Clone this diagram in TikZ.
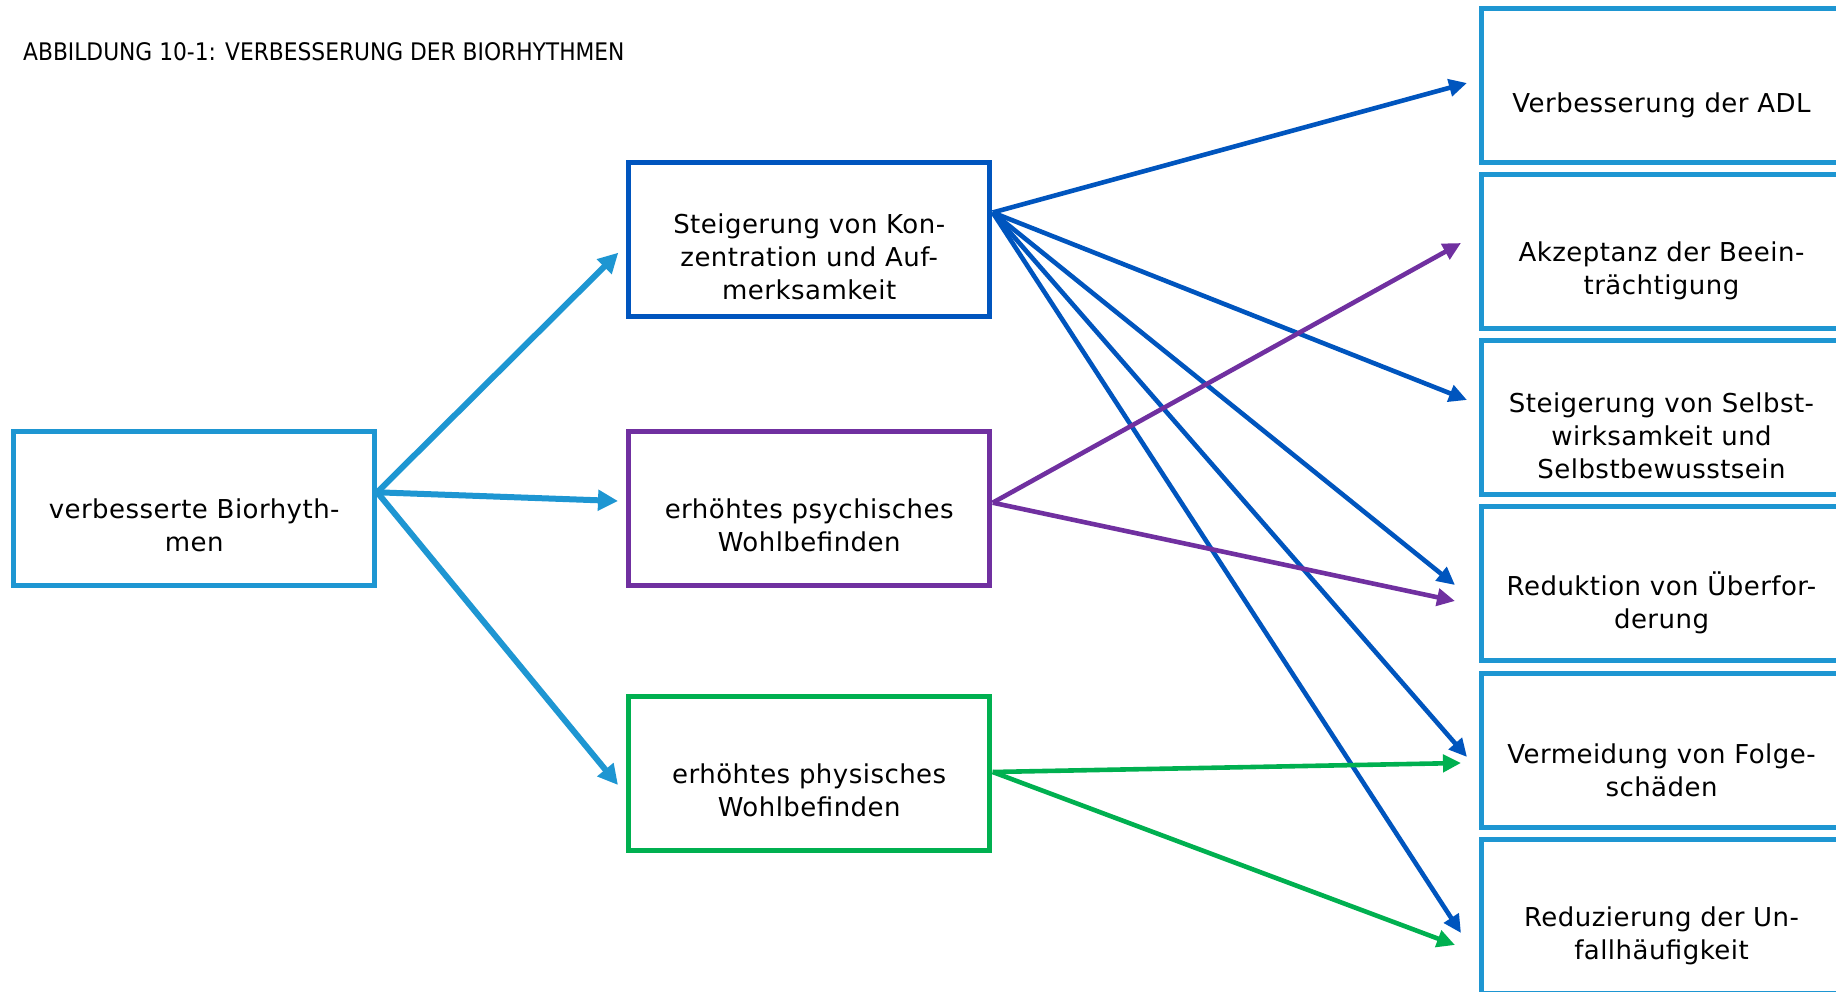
\documentclass[tikz,border=0pt]{standalone}
\usepackage{fontspec}
\setmainfont{DejaVu Sans}[LetterSpace=1.8]
\newfontfamily\titlefont{DejaVu Sans Condensed}
\usetikzlibrary{arrows.meta}
\definecolor{lblue}{HTML}{1E96D2}
\definecolor{dblue}{HTML}{0055BE}
\definecolor{lila}{HTML}{7030A0}
\definecolor{gruen}{HTML}{00B050}
\begin{document}
\begin{tikzpicture}[x=1pt,y=-1pt,
  box/.style={draw, line width=5pt, minimum width=361pt, minimum height=154pt, inner sep=0pt},
  btext/.style={align=center, font=\fontsize{26}{33}\selectfont, text=black, inner sep=0pt},
  link/.style={line width=4.6pt, -{Triangle[length=18pt,width=17pt]}},
  thick link/.style={line width=6pt, -{Triangle[length=20pt,width=20pt]}},
]
\useasboundingbox (0,0) rectangle (1836,992);
\fill[white] (0,0) rectangle (1836,992);

% caption
\node[anchor=base west, inner sep=0pt, font=\titlefont\fontsize{24.2}{28}\selectfont] (title) at (23,61)
  {ABBILDUNG 10-1: VERBESSERUNG DER BIORHYTHMEN};

% boxes
\node[box, draw=lblue] (L)  at (194.2,508.7) {};
\node[box, draw=dblue] (M1) at (809.2,239.5) {};
\node[box, draw=lila]  (M2) at (809.2,508.7) {};
\node[box, draw=gruen] (M3) at (809.2,773) {};
\node[box, draw=lblue] (R1) at (1661.5,85.8) {};
\node[box, draw=lblue] (R2) at (1661.5,251.3) {};
\node[box, draw=lblue] (R3) at (1661.5,417.2) {};
\node[box, draw=lblue] (R4) at (1661.5,583) {};
\node[box, draw=lblue] (R5) at (1661.5,750.3) {};
\node[box, draw=lblue] (R6) at (1661.5,916.2) {};

% box labels
\node[btext] (tL)  at ([yshift=-17pt]L.center)  {verbesserte Biorhyth-\\men};
\node[btext] (tM1) at ([yshift=-17pt]M1.center) {Steigerung von Kon-\\zentration und Auf-\\merksamkeit};
\node[btext] (tM2) at ([yshift=-17pt]M2.center) {erhöhtes psychisches\\Wohlbefinden};
\node[btext] (tM3) at ([yshift=-17pt]M3.center) {erhöhtes physisches\\Wohlbefinden};
\node[btext] (tR1) at ([yshift=-20pt]R1.center) {Verbesserung der ADL};
\node[btext] (tR2) at ([yshift=-20pt]R2.center) {Akzeptanz der Beein-\\trächtigung};
\node[btext] (tR3) at ([yshift=-19pt]R3.center) {Steigerung von Selbst-\\wirksamkeit und\\Selbstbewusstsein};
\node[btext] (tR4) at ([yshift=-20pt]R4.center) {Reduktion von Überfor-\\derung};
\node[btext] (tR5) at ([yshift=-20pt]R5.center) {Vermeidung von Folge-\\schäden};
\node[btext] (tR6) at ([yshift=-20pt]R6.center) {Reduzierung der Un-\\fallhäufigkeit};

% connector start points on the box edges
\coordinate (Lo)  at ([shift={(0pt,16.4pt)}]L.east);
\coordinate (M1o) at ([shift={(0.5pt,27pt)}]M1.east);
\coordinate (M2o) at ([shift={(0.5pt,6pt)}]M2.east);
\coordinate (M3o) at ([shift={(0.5pt,1pt)}]M3.east);

% arrow tips
\coordinate (aM1) at (618.3,252.7);
\coordinate (aM2) at (618,501);
\coordinate (aM3) at (618,785);
\coordinate (bR1) at (1467,83);
\coordinate (bR3) at (1467,400);
\coordinate (bR4) at (1455,585);
\coordinate (bR5) at (1467,757);
\coordinate (bR6) at (1461,933);
\coordinate (pR2) at (1461,243);
\coordinate (pR4) at (1455,601);
\coordinate (gR5) at (1461,763);
\coordinate (gR6) at (1455,945);

% connectors
\draw[thick link, lblue] (Lo) -- (aM1);
\draw[thick link, lblue] (Lo) -- (aM2);
\draw[thick link, lblue] (Lo) -- (aM3);

\draw[link, dblue] (M1o) -- (bR1);
\draw[link, dblue] (M1o) -- (bR3);
\draw[link, dblue] (M1o) -- (bR4);
\draw[link, dblue] (M1o) -- (bR5);
\draw[link, dblue] (M1o) -- (bR6);

\draw[link, lila] (M2o) -- (pR2);
\draw[link, lila] (M2o) -- (pR4);

\draw[link, gruen] (M3o) -- (gR5);
\draw[link, gruen] (M3o) -- (gR6);
\end{tikzpicture}
\end{document}
